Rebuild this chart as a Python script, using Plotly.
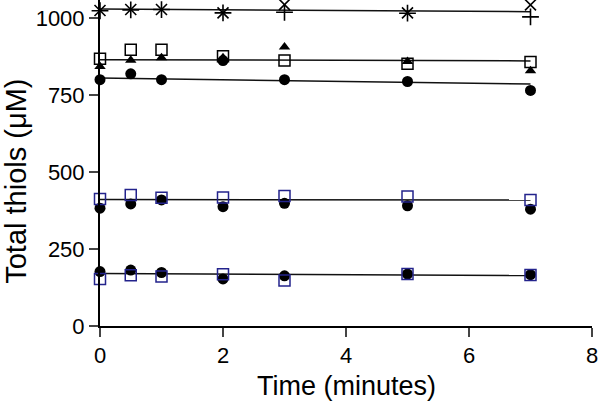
import plotly.graph_objects as go

times = [0, 0.5, 1, 2, 3, 5, 7]

# Top group (~1030)
top_x_marks = [1026, 1029, 1029, 1018, 1045, 1018, 1044]
top_plus_marks = [1025, 1028, 1029, 1018, 1020, 1017, 1005]

# Second group (~865)
g2_open_squares = [869, 898, 898, 877, 863, 853, 858]
g2_triangles = [844, 864, 872, 872, 907, 860, 830]

# Third group (~800)
g3_circles = [801, 820, 801, 863, 801, 795, 766]

# Fourth group (~410)
g4_blue_squares = [413, 426, 417, 418, 423, 421, 410]
g4_circles = [383, 397, 410, 388, 399, 391, 380]

# Fifth group (~170)
g5_blue_squares = [153, 165, 161, 168, 148, 169, 166]
g5_circles = [177, 182, 174, 153, 163, 169, 167]

# Fitted lines (values at start and end time)
fit_times = [0, 7]
fit_g1 = [1031, 1022]
fit_g2 = [866, 862]
fit_g3 = [806, 787]
fit_g4 = [411, 410]
fit_g5 = [171, 164]

x_ticks = [0, 2, 4, 6, 8]
y_ticks = [0, 250, 500, 750, 1000]

BLUE = "#23238c"
BLACK = "#000000"

fig = go.Figure()

for fit in [fit_g1, fit_g2, fit_g3, fit_g4, fit_g5]:
    fig.add_trace(go.Scatter(x=fit_times, y=fit, mode="lines",
                             line=dict(color="#111111", width=1.5),
                             showlegend=False, hoverinfo="skip"))

def pts(y, symbol, color, size, lw=1.5):
    fig.add_trace(go.Scatter(
        x=times, y=y, mode="markers", showlegend=False, cliponaxis=False,
        marker=dict(symbol=symbol, size=size, color=color,
                    line=dict(color=color, width=lw))))

pts(top_x_marks, "x-thin-open", BLACK, 11, 1.6)
pts(top_plus_marks, "cross-thin-open", BLACK, 12, 1.6)
pts(g2_triangles, "triangle-up", BLACK, 10, 0)
pts(g3_circles, "circle", BLACK, 11, 0)
pts(g2_open_squares, "square-open", BLACK, 11, 1.5)
pts(g4_circles, "circle", BLACK, 11, 0)
pts(g4_blue_squares, "square-open", BLUE, 11, 1.5)
pts(g5_circles, "circle", BLACK, 11, 0)
pts(g5_blue_squares, "square-open", BLUE, 11, 1.5)

font = "Liberation Sans, Arial, sans-serif"

fig.update_layout(
    template="none",
    width=600, height=405,
    margin=dict(l=100, r=8, t=0, b=79),
    paper_bgcolor="white", plot_bgcolor="white",
    font=dict(family=font, color="black"),
    xaxis=dict(range=[0, 8], tickvals=x_ticks, ticks="outside", ticklen=9,
               tickwidth=2, showline=True, linewidth=2, linecolor="black",
               showgrid=False, zeroline=False, tickfont=dict(size=22),
               automargin=False),
    yaxis=dict(range=[0, 1060], tickvals=y_ticks, ticks="outside", ticklen=9,
               tickwidth=2, showline=True, linewidth=2, linecolor="black",
               showgrid=False, zeroline=False, tickfont=dict(size=22),
               automargin=False),
    annotations=[
        dict(text="Time (minutes)", xref="paper", yref="paper",
             x=0.5, y=-0.184, xanchor="center", yanchor="middle",
             showarrow=False, font=dict(size=27)),
        dict(text="Total thiols (μM)", xref="paper", yref="paper",
             x=-0.171, y=0.445, xanchor="center", yanchor="middle",
             textangle=-90, showarrow=False, font=dict(size=29)),
    ],
)

fig.write_html("out.html", config={"displayModeBar": False},
               post_script="document.body.style.margin='0';")
